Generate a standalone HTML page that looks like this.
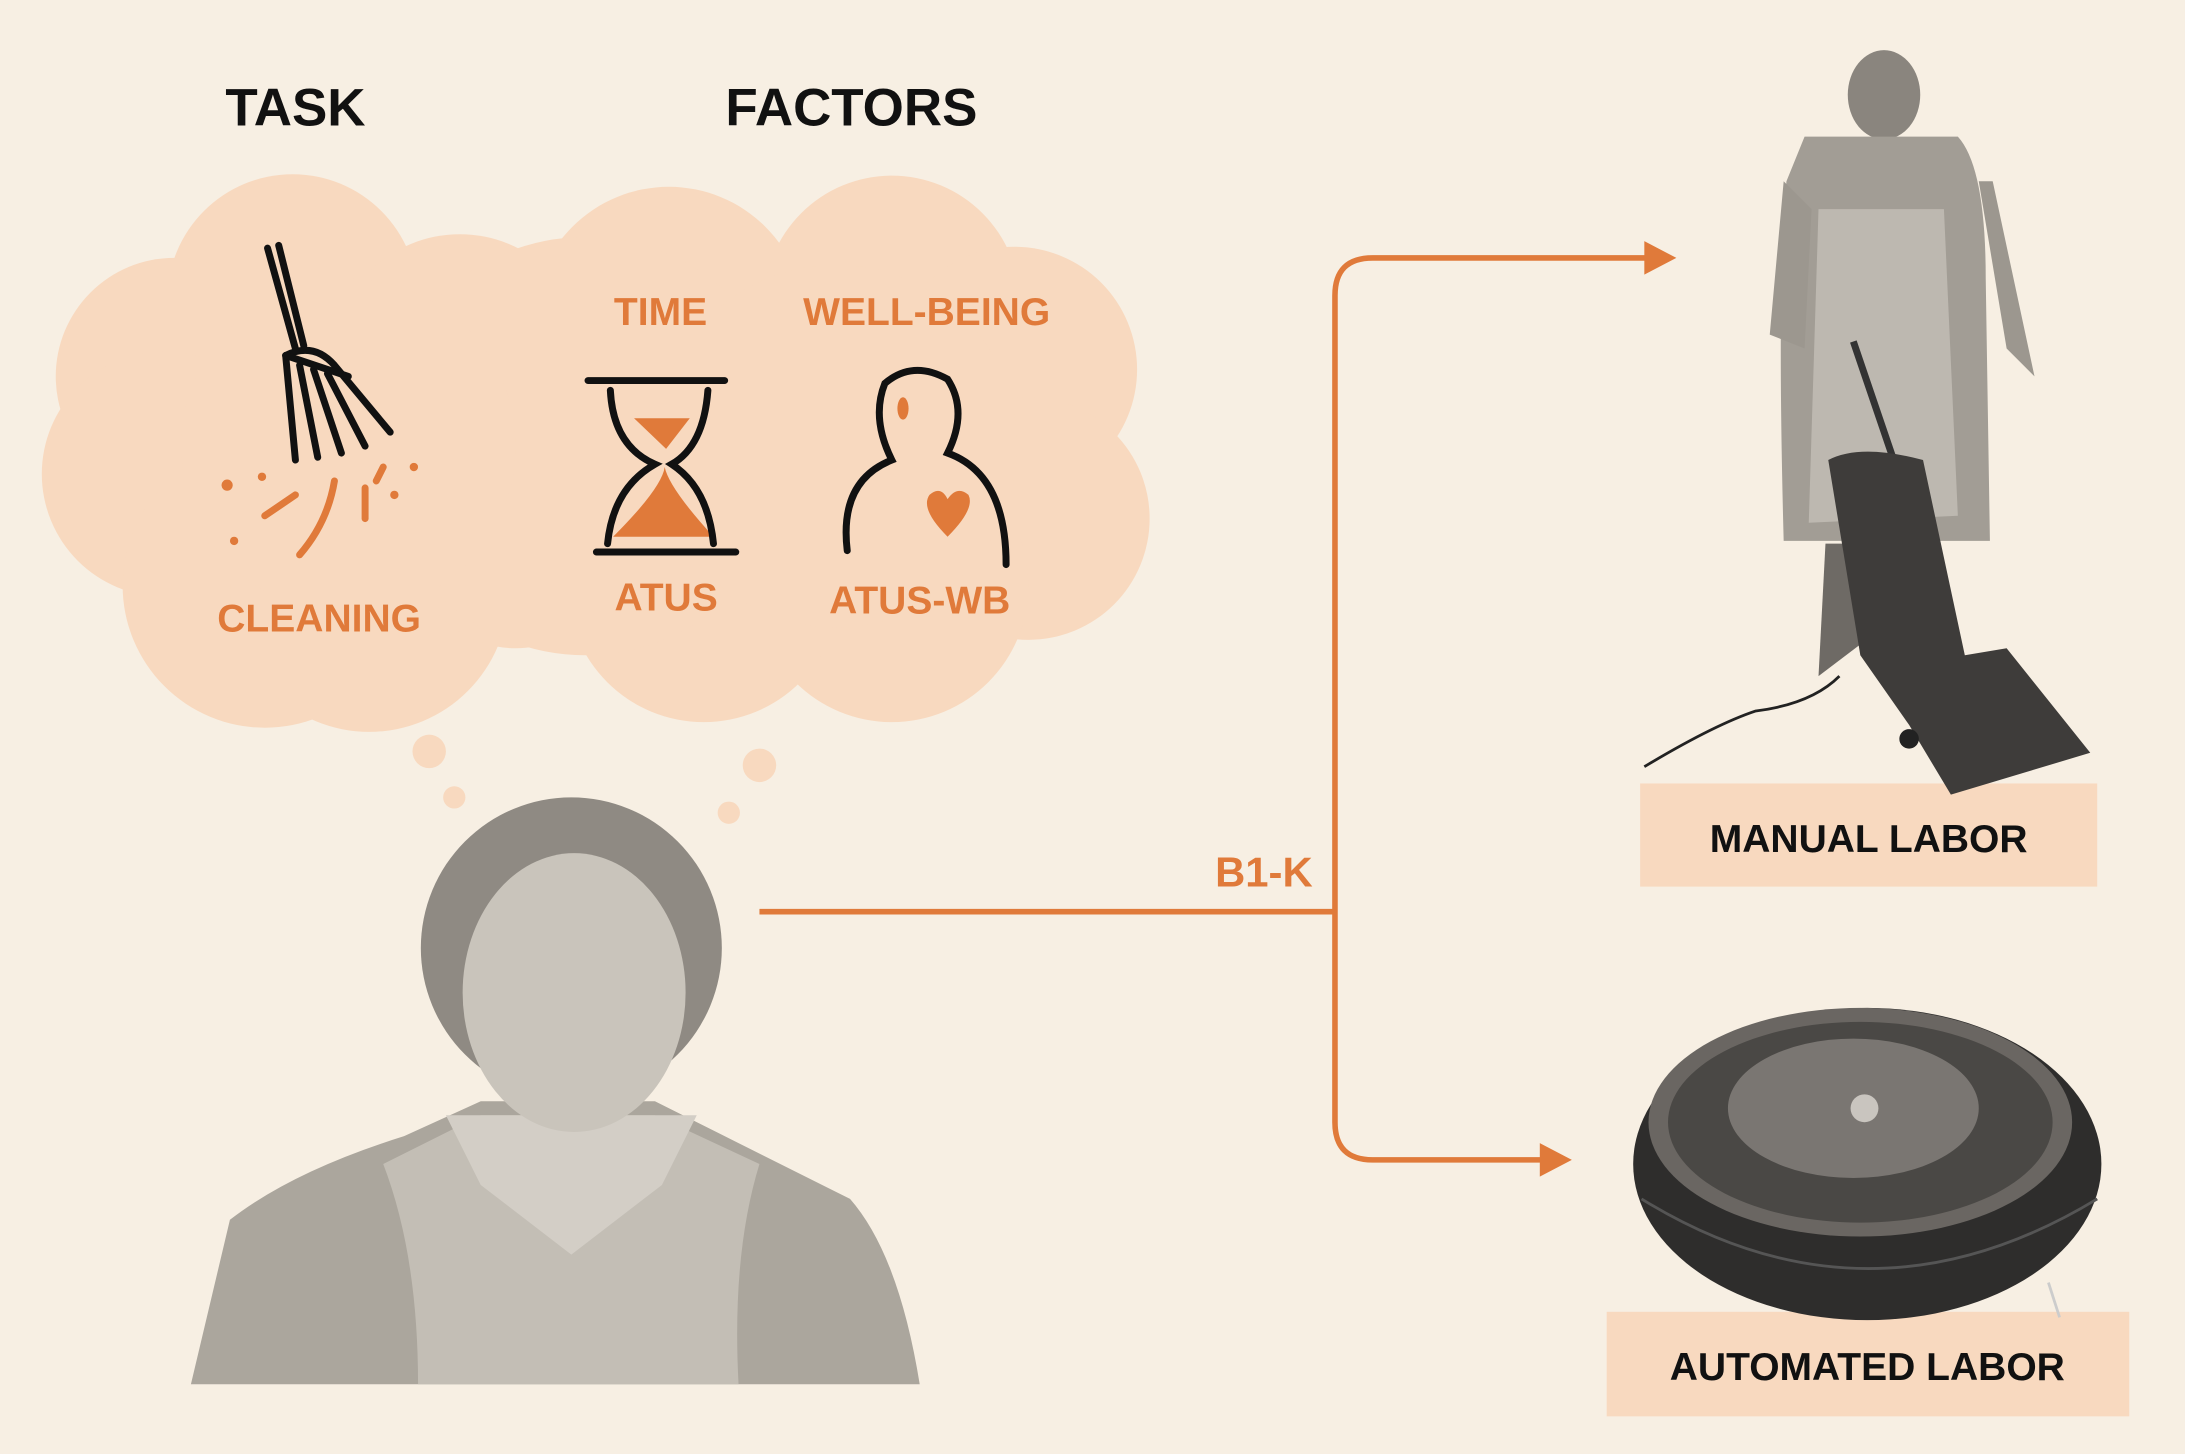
<!DOCTYPE html>
<html><head><meta charset="utf-8"><style>
html,body{margin:0;padding:0;background:#f7efe3;}
svg{display:block;}
text{font-family:"Liberation Sans",Arial,sans-serif;font-weight:bold;}
</style></head><body>
<svg width="2185" height="1454" viewBox="0 0 1568 1043" preserveAspectRatio="none" xmlns="http://www.w3.org/2000/svg">
<rect width="1568" height="1043" fill="#f7efe3"/>
<!-- cloud -->
<g fill="#f8d9bf">
<circle cx="210" cy="215" r="90"/><circle cx="125" cy="270" r="85"/><circle cx="118" cy="340" r="88"/>
<circle cx="190" cy="420" r="102"/><circle cx="265" cy="425" r="100"/><circle cx="330" cy="260" r="92"/>
<circle cx="370" cy="390" r="75"/><circle cx="480" cy="232" r="98"/><circle cx="640" cy="218" r="92"/>
<circle cx="728" cy="265" r="88"/><circle cx="738" cy="372" r="87"/><circle cx="640" cy="420" r="98"/>
<circle cx="505" cy="420" r="98"/><circle cx="420" cy="320" r="150"/><circle cx="250" cy="320" r="120"/><circle cx="600" cy="320" r="130"/>
<circle cx="308" cy="539" r="12"/><circle cx="326" cy="572" r="8"/><circle cx="545" cy="549" r="12"/><circle cx="523" cy="583" r="8"/>
</g>
<text x="212" y="90" font-size="38" text-anchor="middle" fill="#111">TASK</text>
<text x="611" y="90" font-size="38" text-anchor="middle" fill="#111">FACTORS</text>
<g fill="#e07a3a" font-size="28" text-anchor="middle">
<text x="474" y="233">TIME</text><text x="665" y="233">WELL-BEING</text>
<text x="478" y="438">ATUS</text><text x="660" y="440">ATUS-WB</text>
<text x="229" y="453">CLEANING</text>
<text x="907" y="636" font-size="30">B1-K</text>
</g>
<!-- broom -->
<g stroke="#111" stroke-width="5" fill="none" stroke-linecap="round">
<path d="M192 178 L212 250"/><path d="M200 176 L218 248"/>
<path d="M205 255 Q225 245 240 262 L280 310"/><path d="M205 255 L212 330"/>
<path d="M215 262 L228 328"/><path d="M225 265 L245 325"/><path d="M235 268 L262 320"/><path d="M205 255 L250 270"/>
</g>
<g stroke="#e07a3a" stroke-width="5" fill="none" stroke-linecap="round">
<path d="M190 370 L212 355"/><path d="M240 345 Q235 375 215 398"/><path d="M262 350 L262 372"/><path d="M275 335 L270 345"/>
</g>
<g fill="#e07a3a"><circle cx="163" cy="348" r="4"/><circle cx="188" cy="342" r="3"/><circle cx="168" cy="388" r="3"/><circle cx="283" cy="355" r="3"/><circle cx="297" cy="335" r="3"/></g>
<!-- hourglass -->
<path d="M440 385 Q475 350 477 335 Q480 350 512 385 Z" fill="#e07a3a"/>
<path d="M455 300 L495 300 L478 322 Z" fill="#e07a3a"/>
<g stroke="#111" stroke-width="5" fill="none" stroke-linecap="round">
<path d="M422 273 L520 273"/><path d="M428 396 L528 396"/>
<path d="M438 280 Q440 320 470 333 Q440 350 436 390"/><path d="M508 280 Q505 320 482 333 Q508 350 512 390"/>
</g>
<!-- person -->
<path d="M608 395 Q602 345 640 330 Q625 300 635 275 Q655 258 680 272 Q695 295 680 325 Q722 340 722 405" stroke="#111" stroke-width="5" fill="none" stroke-linecap="round"/>
<path d="M680 385 Q660 365 667 355 Q675 348 680 358 Q687 348 695 355 Q700 365 680 385Z" fill="#e07a3a"/>
<ellipse cx="648" cy="293" rx="4" ry="8" fill="#e07a3a"/>
<!-- connectors -->
<g stroke="#e07a3a" stroke-width="4" fill="none">
<path d="M545 654 L958 654"/>
<path d="M1185 185 L985 185 Q958 185 958 212 L958 805 Q958 832 985 832 L1110 832"/>
</g>
<path d="M1180 173 L1203 185 L1180 197Z M1105 820 L1128 832 L1105 844Z" fill="#e07a3a"/>
<!-- labels -->
<rect x="1177" y="562" width="328" height="74" fill="#f8d9bf"/>
<rect x="1153" y="941" width="375" height="75" fill="#f8d9bf"/>
<text x="1341" y="611" font-size="28" text-anchor="middle" fill="#111">MANUAL LABOR</text>
<text x="1340" y="990" font-size="28" text-anchor="middle" fill="#111">AUTOMATED LABOR</text>
<!-- portrait -->
<path d="M137 993 L165 875 Q210 840 290 815 L345 790 L470 790 Q530 820 610 860 Q645 900 660 993 Z" fill="#aba69d"/>
<path d="M275 835 Q300 900 300 993 L530 993 Q525 900 545 835 L470 800 L345 800 Z" fill="#c3beb5"/>
<path d="M320 800 L345 850 L410 900 L475 850 L500 800 Z" fill="#d3cec6"/>
<ellipse cx="410" cy="680" rx="108" ry="108" fill="#8f8a83"/>
<ellipse cx="412" cy="712" rx="80" ry="100" fill="#c9c4bb"/>
<!-- vacuum woman -->
<ellipse cx="1352" cy="68" rx="26" ry="32" fill="#8a857e"/>
<path d="M1295 98 L1405 98 Q1425 120 1425 200 L1428 388 L1280 388 Q1275 200 1282 130 Z" fill="#a29d95"/>
<path d="M1305 150 L1395 150 L1405 370 L1298 375 Z" fill="#bdb8b0"/>
<path d="M1280 130 L1270 240 L1295 250 L1300 150 Z M1420 130 L1440 250 L1460 270 L1430 130 Z" fill="#9c978f"/>
<path d="M1310 390 L1340 390 L1338 460 L1305 485 Z" fill="#6e6a65"/>
<path d="M1330 245 L1410 480" stroke="#333" stroke-width="5"/>
<path d="M1312 330 Q1335 318 1380 330 L1410 470 L1440 465 L1500 540 L1400 570 L1370 520 L1335 470 Z" fill="#3e3c3a"/>
<circle cx="1370" cy="530" r="7" fill="#222"/>
<path d="M1180 550 Q1230 520 1260 510 Q1300 505 1320 485" stroke="#222" stroke-width="2" fill="none"/>
<!-- roomba -->
<ellipse cx="1340" cy="835" rx="168" ry="112" fill="#2e2d2c"/>
<ellipse cx="1335" cy="805" rx="152" ry="82" fill="#6a6662"/>
<ellipse cx="1335" cy="805" rx="138" ry="72" fill="#4a4845"/>
<ellipse cx="1330" cy="795" rx="90" ry="50" fill="#7a7672"/>
<circle cx="1338" cy="795" r="10" fill="#c9c5bf"/>
<path d="M1178 860 Q1340 960 1505 860" stroke="#555" stroke-width="2" fill="none"/>
<path d="M1470 920 L1478 945" stroke="#ccc" stroke-width="2"/>
</svg>
</body></html>
